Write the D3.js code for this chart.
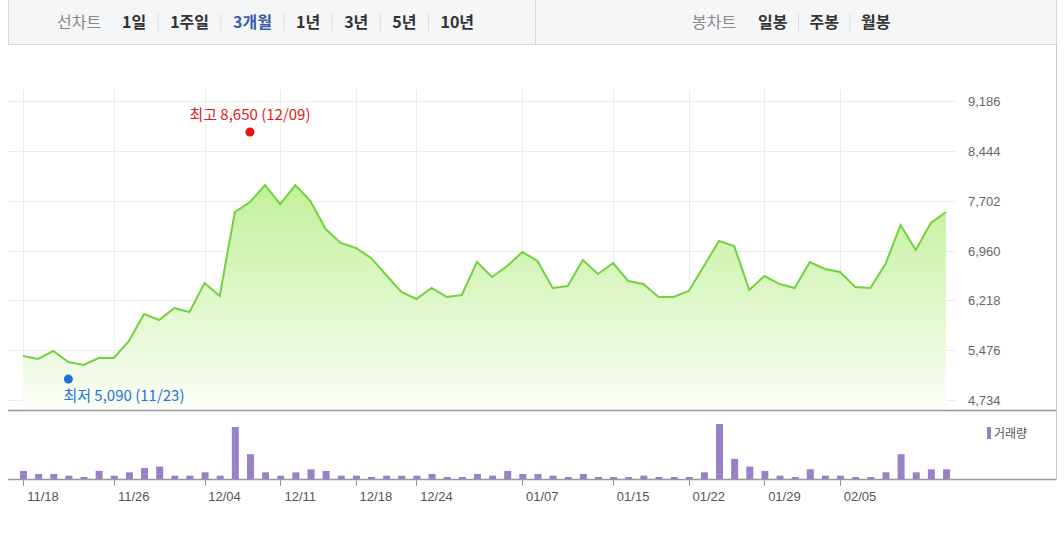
<!DOCTYPE html>
<html><head><meta charset="utf-8">
<script src="https://cdn.jsdelivr.net/npm/d3@7"></script>
<style>
body{margin:0;background:#fff;font-family:"Noto Sans CJK KR","Noto Sans",sans-serif;}
</style></head>
<body><svg id="chart" width="1064" height="534"></svg>
<script>
// closing prices, one per trading day
const prices = [5389,5345,5463,5300,5255,5359,5359,5612,6014,5925,6104,6044,6476,6282,7533,7682,7935,7652,7935,7697,
  7280,7072,6997,6849,6595,6342,6238,6402,6268,6297,6789,6565,6729,6938,6804,6402,6432,6819,6610,6774,
  6506,6461,6268,6268,6357,6729,7101,7027,6372,6580,6461,6402,6789,6685,6640,6417,6402,6759,7340,6967,7369,7533];
// volume (relative)
const volumes = [24,15,15,10,6,24,10,20,33,37,10,10,20,10,155,74,20,10,20,29,
  24,10,10,6,10,10,10,15,6,6,15,10,24,15,15,10,6,15,6,6,
  6,10,6,6,6,20,164,60,37,24,10,6,29,10,10,6,6,20,74,20,29,29];
const yTicks = [4734,5476,6218,6960,7702,8444,9186];
const dateTickIdx = [0,6,12,17,22,26,33,39,44,49,54];
const dateTickLabels = ["11/18","11/26","12/04","12/11","12/18","12/24","01/07","01/15","01/22","01/29","02/05"];
const high = {idx:15, value:8650, label:"최고 8,650 (12/09)"};
const low = {idx:3, value:5090, label:"최저 5,090 (11/23)"};
const leftMenu = ["1일","1주일","3개월","1년","3년","5년","10년"];
const rightMenu = ["일봉","주봉","월봉"];

const svg = d3.select("#chart");

// header
svg.append("rect").attr("x",8.5).attr("y",-1).attr("width",1048).attr("height",45.5)
  .attr("fill","#f5f6f8").attr("stroke","#d5d7db");
svg.append("line").attr("x1",535.5).attr("x2",535.5).attr("y1",0).attr("y2",44).attr("stroke","#d5d7db");
svg.append("text").attr("x",57).attr("y",28).attr("font-size",16).attr("fill","#888").text("선차트");
function menu(items, startX, gap) {
  let mx = startX;
  items.forEach((t,i) => {
    const tx = svg.append("text").attr("x",mx).attr("y",28).attr("font-size",16).attr("font-weight","bold")
      .attr("fill", t==="3개월" ? "#3c5aa6" : "#333").text(t);
    mx += tx.node().getComputedTextLength() + gap;
    if (i < items.length-1) {
      svg.append("line").attr("x1",mx).attr("x2",mx).attr("y1",14).attr("y2",31).attr("stroke","#ddd");
      mx += gap;
    }
  });
}
menu(leftMenu, 122, 12);
svg.append("text").attr("x",692).attr("y",28).attr("font-size",16).attr("fill","#888").text("봉차트");
menu(rightMenu, 758, 11);

// scales
const x = d3.scaleLinear().domain([0, prices.length-1]).range([23, 946]);
const y = d3.scaleLinear().domain([4734, 9186]).range([400, 101]);
const yv = d3.scaleLinear().domain([0, 170]).range([479, 422]);

// grid
const grid = svg.append("g");
yTicks.forEach(v => {
  grid.append("line").attr("x1",8).attr("x2",956).attr("y1",Math.round(y(v))+0.5).attr("y2",Math.round(y(v))+0.5)
    .attr("stroke","#ececec");
  svg.append("text").attr("x",968).attr("y",y(v)+5).attr("font-size",13).attr("fill","#666")
    .attr("font-family","Liberation Sans, sans-serif").text(d3.format(",")(v));
});
dateTickIdx.forEach(i => {
  grid.append("line").attr("x1",Math.round(x(i))+0.5).attr("x2",Math.round(x(i))+0.5).attr("y1",90).attr("y2",410)
    .attr("stroke","#ececec");
});

// area + line
const defs = svg.append("defs");
const grad = defs.append("linearGradient").attr("id","g1").attr("gradientUnits","userSpaceOnUse")
  .attr("x1",0).attr("x2",0).attr("y1",y(d3.max(prices))).attr("y2",410);
grad.append("stop").attr("offset","0%").attr("stop-color","#c2f09a");
grad.append("stop").attr("offset","100%").attr("stop-color","#fbfef8");

svg.append("path").datum(prices)
  .attr("d", d3.area().x((d,i)=>x(i)).y0(410).y1(d=>y(d)))
  .attr("fill","url(#g1)");
svg.append("path").datum(prices)
  .attr("d", d3.line().x((d,i)=>x(i)).y(d=>y(d)))
  .attr("fill","none").attr("stroke","#72d23f").attr("stroke-width",2);

// high / low markers
svg.append("circle").attr("cx",x(high.idx)).attr("cy",y(high.value)-5).attr("r",4.5).attr("fill","#f01010");
svg.append("text").attr("x",x(high.idx)).attr("y",y(high.value)-17).attr("text-anchor","middle")
  .attr("font-size",15).attr("fill","#e8191c").text(high.label);
svg.append("circle").attr("cx",x(low.idx)).attr("cy",y(low.value)+3).attr("r",4.5).attr("fill","#1e6fd9");
svg.append("text").attr("x",x(low.idx)-5).attr("y",y(low.value)+25).attr("font-size",15)
  .attr("fill","#2a72d6").text(low.label);

// separators
svg.append("line").attr("x1",8).attr("x2",1056).attr("y1",410.5).attr("y2",410.5).attr("stroke","#999").attr("stroke-width",1.5);
svg.append("line").attr("x1",8).attr("x2",1056).attr("y1",479.5).attr("y2",479.5).attr("stroke","#999").attr("stroke-width",1.5);
svg.append("line").attr("x1",1056.5).attr("x2",1056.5).attr("y1",44).attr("y2",480).attr("stroke","#c8c8c8");

// volume bars
svg.append("g").selectAll("rect").data(volumes).join("rect")
  .attr("x",(d,i)=>x(i)-3).attr("width",7)
  .attr("y",d=>yv(d)).attr("height",d=>479-yv(d))
  .attr("fill","#9a80c8");

// volume legend
svg.append("rect").attr("x",987).attr("y",427).attr("width",4).attr("height",12).attr("fill","#9a80c8");
svg.append("text").attr("x",994).attr("y",438).attr("font-size",12).attr("fill","#555").text("거래량");

// date ticks
dateTickIdx.forEach((i,k) => {
  svg.append("line").attr("x1",Math.round(x(i))+0.5).attr("x2",Math.round(x(i))+0.5).attr("y1",480).attr("y2",486).attr("stroke","#999");
  svg.append("text").attr("x",x(i)+20).attr("y",501).attr("text-anchor","middle").attr("font-size",13)
    .attr("fill","#555").attr("font-family","Liberation Sans, sans-serif").text(dateTickLabels[k]);
});
</script></body></html>
